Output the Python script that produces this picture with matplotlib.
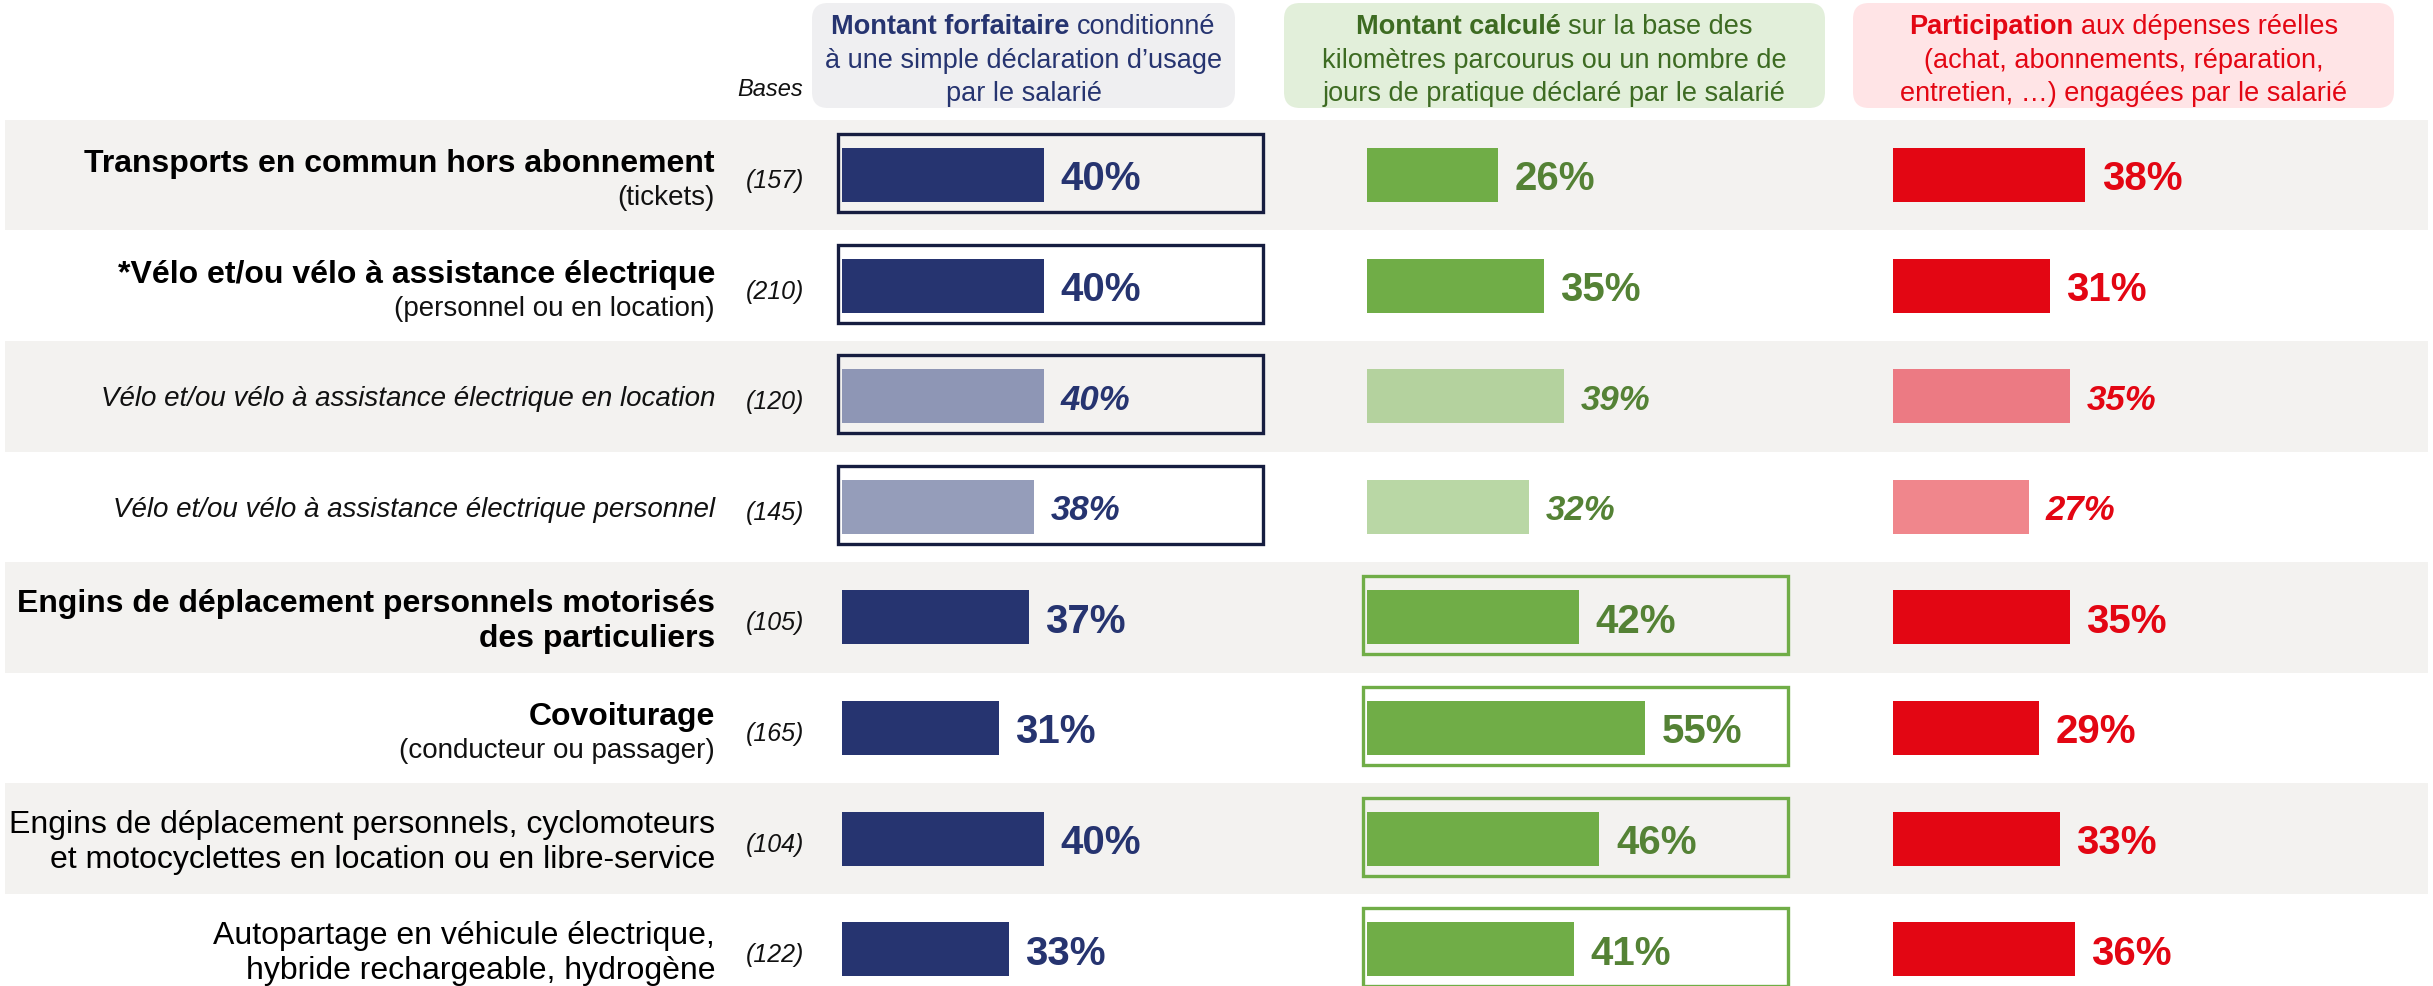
import matplotlib
matplotlib.use('Agg')
import matplotlib.pyplot as plt
from matplotlib.patches import Rectangle, FancyBboxPatch

plt.rcParams['font.family'] = ['Liberation Sans', 'DejaVu Sans']

# ---------------- data ----------------
row_titles = [
    "Transports en commun hors abonnement",
    "*Vélo et/ou vélo à assistance électrique",
    "Vélo et/ou vélo à assistance électrique en location",
    "Vélo et/ou vélo à assistance électrique personnel",
    "Engins de déplacement personnels motorisés\ndes particuliers",
    "Covoiturage",
    "Engins de déplacement personnels, cyclomoteurs\net motocyclettes en location ou en libre-service",
    "Autopartage en véhicule électrique,\nhybride rechargeable, hydrogène",
]
row_subtitles = ["(tickets)", "(personnel ou en location)", "", "", "", "(conducteur ou passager)", "", ""]
row_styles = ["bold", "bold", "italic", "italic", "bold", "bold", "normal", "normal"]
bases = [157, 210, 120, 145, 105, 165, 104, 122]

forfaitaire = [40, 40, 40, 38, 37, 31, 40, 33]
calcule = [26, 35, 39, 32, 42, 55, 46, 41]
reelles = [38, 31, 35, 27, 35, 29, 33, 36]

framed_forfaitaire = [True, True, True, True, False, False, False, False]
framed_calcule = [False, False, False, False, True, True, True, True]

header_bold = ["Montant forfaitaire", "Montant calculé", "Participation"]
header_rest = [
    ["conditionné", "à une simple déclaration d’usage", "par le salarié"],
    ["sur la base des", "kilomètres parcourus ou un nombre de", "jours de pratique déclaré par le salarié"],
    ["aux dépenses réelles", "(achat, abonnements, réparation,", "entretien, …) engagées par le salarié"],
]

# ---------------- styles ----------------
W, H, DPI = 2433, 987, 100
ROW0, PITCH = 176, 110.6
S = 5.05  # px per percent
col_x0 = [842, 1367, 1893]
band_color = "#F3F2F0"

navy, navy_l3, navy_l4 = "#263470", "#8E96B5", "#959DBA"
green, green_l3, green_l4 = "#70AD47", "#B4D29E", "#B9D7A5"
red, red_l3, red_l4 = "#E30613", "#EC7A83", "#F0868C"
green_txt = "#548235"

def row_colors(base, l3, l4, n):
    c = [base] * n
    c[2] = l3
    c[3] = l4
    return c

n = len(bases)
columns = [
    dict(values=forfaitaire, colors=row_colors(navy, navy_l3, navy_l4, n), txt=navy,
         framed=framed_forfaitaire, frame_color="#161D40"),
    dict(values=calcule, colors=row_colors(green, green_l3, green_l4, n), txt=green_txt,
         framed=framed_calcule, frame_color=green),
    dict(values=reelles, colors=row_colors(red, red_l3, red_l4, n), txt=red,
         framed=[False] * n, frame_color=red),
]
header_fill = ["#EFEFF1", "#E2EFDA", "#FFE4E6"]
header_txt = [navy, "#3D6B22", red]
header_box = [(812, 1235), (1284, 1825), (1853, 2394)]

fig = plt.figure(figsize=(W / DPI, H / DPI), dpi=DPI)
renderer = fig.canvas.get_renderer()

# background axes in pixel units
bg = fig.add_axes([0, 0, 1, 1])
bg.set_xlim(0, W)
bg.set_ylim(H, 0)
bg.axis("off")

for i in range(n):
    if i % 2 == 0:
        bg.add_patch(Rectangle((5, ROW0 + (i - 0.5) * PITCH), W - 10, PITCH,
                               fc=band_color, ec="none", zorder=0))

# header boxes
HFS = 19.5
for k, (x0, x1) in enumerate(header_box):
    bg.add_patch(FancyBboxPatch((x0, 4), x1 - x0, 105,
                                boxstyle="round,pad=0,rounding_size=16",
                                fc=header_fill[k], ec="none", zorder=1))
    cx = (x0 + x1) / 2
    ys = [27, 61, 94]
    tb = bg.text(0, ys[0], header_bold[k], fontsize=HFS, fontweight="bold",
                 color=header_txt[k], va="center", ha="left", zorder=3)
    tr = bg.text(0, ys[0], header_rest[k][0], fontsize=HFS,
                 color=header_txt[k], va="center", ha="left", zorder=3)
    wb = tb.get_window_extent(renderer).width
    wr = tr.get_window_extent(renderer).width
    sp = 0.278 * HFS * DPI / 72
    start = cx - (wb + sp + wr) / 2
    tb.set_x(start)
    tr.set_x(start + wb + sp)
    for j in (1, 2):
        bg.text(cx, ys[j], header_rest[k][j], fontsize=HFS, color=header_txt[k],
                va="center", ha="center", zorder=3)

bg.text(803, 90, "Bases", fontsize=17, style="italic", ha="right", va="center", color="#111111")

# row labels
LX = 715
for i in range(n):
    yc = ROW0 + i * PITCH
    st = row_styles[i]
    if st == "italic":
        bg.text(LX, yc + 2, row_titles[i], fontsize=20, style="italic", ha="right",
                va="center", color="#111111")
    elif row_subtitles[i]:
        bg.text(LX, yc - 12, row_titles[i], fontsize=23, fontweight=st, ha="right",
                va="center", color="#000000")
        bg.text(LX, yc + 22, row_subtitles[i], fontsize=20, ha="right",
                va="center", color="#111111")
    else:
        bg.text(LX, yc + 3, row_titles[i], fontsize=23, fontweight=st, ha="right",
                va="center", color="#000000", linespacing=1.22)
    bg.text(804, yc + 5, f"({bases[i]})", fontsize=18, style="italic", ha="right",
            va="center", color="#111111")

# bar columns
ylim = ((H - ROW0) / PITCH, -ROW0 / PITCH)
rows = list(range(n))
for c, col in enumerate(columns):
    x0 = col_x0[c]
    ax = fig.add_axes([(x0 - 10 * S) / W, 0, 110 * S / W, 1])
    ax.set_xlim(-10, 100)
    ax.set_ylim(*ylim)
    ax.axis("off")
    ax.patch.set_alpha(0)
    ax.barh(rows, col["values"], height=0.49, left=0, color=col["colors"], zorder=2)
    for i, v in enumerate(col["values"]):
        if col["framed"][i]:
            ax.add_patch(Rectangle((-0.8, i - 0.37), 84.2, 0.705, fill=False,
                                   ec=col["frame_color"], lw=2.4, zorder=3))
        italic = row_styles[i] == "italic"
        fs = 25 if italic else 29
        cap = 0.716 * fs * DPI / 72 / PITCH
        ax.text(v + 3.3, i + cap / 2, f"{v}%", fontsize=fs, fontweight="bold",
                style="italic" if italic else "normal", color=col["txt"],
                ha="left", va="baseline", zorder=4)

fig.savefig("out.png", dpi=DPI)
